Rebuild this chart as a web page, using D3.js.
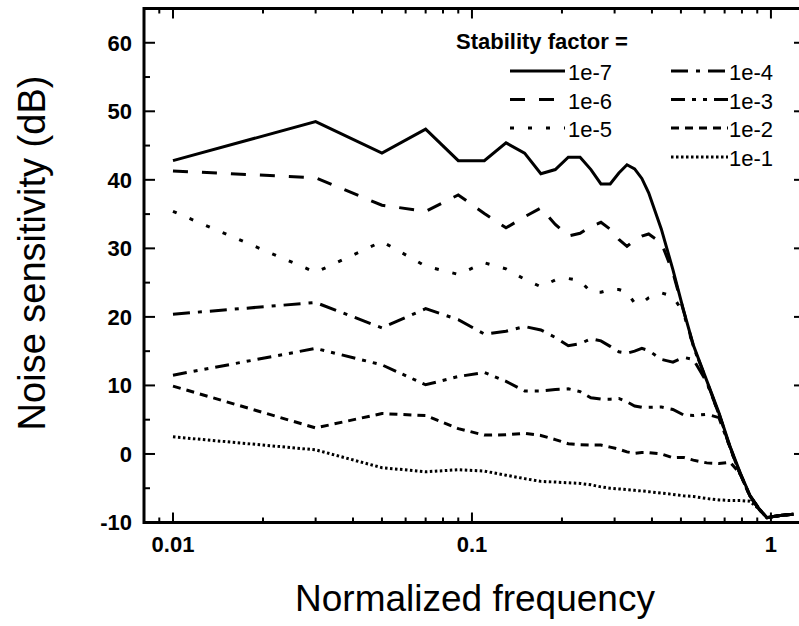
<!DOCTYPE html>
<meta charset="utf-8">
<head>
    <script type="text/javascript" src="https://cdn.jsdelivr.net/npm/d3@7"></script>
    <style>
        body {
            margin: 0;
            background: white;
            font-family: "Liberation Sans", Arial, sans-serif;
        }
        .curve {
            fill: none;
            stroke: black;
            stroke-width: 3;
        }
        .tick-label {
            font-size: 22px;
            font-weight: bold;
        }
        .axis-title {
            font-size: 37px;
        }
    </style>
    <title>Noise sensitivity</title>
</head>

<body>
    <div id="chart"></div>

    <script>
        var w = 799;
        var h = 626;

        // frequencies shared by every curve
        var freqs = [0.01, 0.03, 0.05, 0.07, 0.09, 0.11, 0.13, 0.15, 0.17, 0.19,
                     0.21, 0.23, 0.25, 0.27, 0.29, 0.31, 0.33, 0.35, 0.37, 0.39,
                     0.43, 0.47, 0.51, 0.55, 0.61, 0.67, 0.73, 0.79, 0.85, 0.91,
                     0.97, 1.03, 1.11, 1.19];

        // noise sensitivity (dB) per stability factor
        var sens1e7 = [42.8, 48.5, 43.9, 47.4, 42.8, 42.8, 45.4, 43.9, 40.9, 41.5,
                       43.3, 43.3, 41.5, 39.4, 39.4, 41.0, 42.2, 41.6, 40.2, 38.1,
                       32.8, 26.9, 21.0, 15.9, 10.7, 6.0, 1.1, -2.8, -6.0, -7.9,
                       -9.3, -9.1, -8.9, -8.8];
        var sens1e6 = [41.3, 40.3, 36.3, 35.4, 37.8, 35.1, 33.0, 34.6, 35.9, 33.5,
                       31.8, 32.2, 33.2, 33.8, 32.8, 31.3, 30.3, 31.2, 31.8, 32.1,
                       30.8, 26.5, 20.9, 15.8, 10.6, 5.9, 1.0, -2.9, -6.1, -7.9,
                       -9.3, -9.1, -8.9, -8.8];
        var sens1e5 = [35.4, 26.5, 31.0, 27.4, 26.2, 27.9, 27.0, 25.5, 24.4, 25.4,
                       25.6, 25.3, 23.6, 23.6, 24.0, 24.0, 23.6, 22.0, 22.0, 22.8,
                       23.5, 23.0, 20.6, 15.7, 10.5, 5.8, 0.9, -3.0, -6.1, -8.0,
                       -9.3, -9.1, -8.9, -8.8];
        var sens1e4 = [20.4, 22.1, 18.4, 21.2, 19.6, 17.5, 17.9, 18.6, 18.1, 17.0,
                       15.8, 16.1, 16.8, 16.5, 15.7, 14.9, 14.7, 15.0, 15.4, 15.1,
                       13.8, 13.4, 14.1, 13.8, 10.5, 5.8, 0.9, -3.0, -6.1, -8.0,
                       -9.3, -9.1, -8.9, -8.8];
        var sens1e3 = [11.5, 15.4, 13.0, 10.1, 11.3, 11.9, 10.6, 9.2, 9.2, 9.4,
                       9.5, 9.1, 8.2, 8.0, 8.0, 8.1, 7.6, 7.0, 6.8, 6.8,
                       6.85, 6.5, 5.7, 5.6, 5.8, 5.3, 0.9, -3.0, -6.1, -8.0,
                       -9.3, -9.1, -8.9, -8.8];
        var sens1e2 = [9.9, 3.8, 5.9, 5.6, 3.7, 2.75, 2.8, 3.0, 2.7, 2.1,
                       1.5, 1.35, 1.3, 1.3, 1.0, 0.7, 0.3, 0.1, 0.2, 0.2,
                       0.0, -0.55, -0.5, -0.9, -1.3, -1.4, -1.2, -2.9, -6.1, -8.0,
                       -9.3, -9.1, -8.9, -8.8];
        var sens1e1 = [2.5, 0.6, -2.0, -2.6, -2.3, -2.5, -3.1, -3.6, -4.0, -4.1,
                       -4.2, -4.3, -4.5, -4.8, -5.0, -5.1, -5.2, -5.3, -5.4, -5.5,
                       -5.7, -5.9, -6.1, -6.2, -6.5, -6.7, -6.8, -6.8, -6.9, -8.0,
                       -9.3, -9.1, -8.9, -8.8];

        var seriesNames = ["1e-7", "1e-6", "1e-5", "1e-4", "1e-3", "1e-2", "1e-1"];
        var seriesValues = [sens1e7, sens1e6, sens1e5, sens1e4, sens1e3, sens1e2, sens1e1];
        var dashes = ["none", "15,14", "4,14", "17,8,4,8", "14,7,4,7,4,7", "8,6", "2.5,2.5"];

        var yTicks = [-10, 0, 10, 20, 30, 40, 50, 60];
        var yMinorTicks = [-5, 5, 15, 25, 35, 45, 55];
        var xTicks = [0.01, 0.1, 1];
        var xTickLabels = ["0.01", "0.1", "1"];
        var xMinorTicks = [0.009, 0.02, 0.03, 0.04, 0.05, 0.06, 0.07, 0.08, 0.09,
                           0.2, 0.3, 0.4, 0.5, 0.6, 0.7, 0.8, 0.9];

        var svg = d3.select("#chart")
                    .append("svg")
                    .attr("width", w)
                    .attr("height", h);

        var x = d3.scaleLog().domain([0.008, 1.3]).range([144, 805]);
        var y = d3.scaleLinear().domain([-10, 65]).range([522.5, 8.5]);

        var plotLeft = x.range()[0], plotRight = x.range()[1];
        var plotTop = y.range()[1], plotBottom = y.range()[0];

        // curves
        var line = d3.line()
            .x(d => x(d[0]))
            .y(d => y(d[1]));

        svg.append("g")
            .selectAll("path")
            .data(seriesValues)
            .enter()
            .append("path")
            .attr("class", "curve")
            .attr("d", vals => line(freqs.map((f, i) => [f, vals[i]])))
            .style("stroke-dasharray", (d, i) => dashes[i]);

        // frame
        svg.append("rect")
            .attr("x", plotLeft)
            .attr("y", plotTop)
            .attr("width", plotRight - plotLeft)
            .attr("height", plotBottom - plotTop)
            .attr("fill", "none")
            .attr("stroke", "black")
            .attr("stroke-width", 3);

        // ticks, all pointing inward
        var ticks = svg.append("g").attr("stroke", "black").attr("stroke-width", 2);

        function xTickMarks(vals, len) {
            vals.forEach(v => {
                ticks.append("line").attr("x1", x(v)).attr("x2", x(v))
                    .attr("y1", plotBottom).attr("y2", plotBottom - len);
                ticks.append("line").attr("x1", x(v)).attr("x2", x(v))
                    .attr("y1", plotTop).attr("y2", plotTop + len);
            });
        }
        function yTickMarks(vals, len) {
            vals.forEach(v => {
                ticks.append("line").attr("y1", y(v)).attr("y2", y(v))
                    .attr("x1", plotLeft).attr("x2", plotLeft + len);
                ticks.append("line").attr("y1", y(v)).attr("y2", y(v))
                    .attr("x1", plotRight).attr("x2", plotRight - len);
            });
        }
        xTickMarks(xTicks, 10);
        xTickMarks(xMinorTicks, 5);
        yTickMarks(yTicks, 11);
        yTickMarks(yMinorTicks, 6);

        // tick labels
        svg.append("g")
            .selectAll("text")
            .data(yTicks)
            .enter()
            .append("text")
            .attr("class", "tick-label")
            .attr("x", 132)
            .attr("y", d => y(d))
            .attr("dy", "0.36em")
            .attr("text-anchor", "end")
            .text(d => d);

        svg.append("g")
            .selectAll("text")
            .data(xTicks)
            .enter()
            .append("text")
            .attr("class", "tick-label")
            .attr("x", d => x(d))
            .attr("y", 552)
            .attr("text-anchor", "middle")
            .text((d, i) => xTickLabels[i]);

        // axis titles
        svg.append("text")
            .attr("class", "axis-title")
            .attr("x", 475)
            .attr("y", 611)
            .attr("text-anchor", "middle")
            .text("Normalized frequency");

        svg.append("text")
            .attr("class", "axis-title")
            .attr("transform", "translate(45,253) rotate(-90)")
            .attr("text-anchor", "middle")
            .style("font-size", "38px")
            .text("Noise sensitivity (dB)");

        // legend
        var legend = svg.append("g").attr("id", "legend");

        legend.append("text")
            .attr("x", 456)
            .attr("y", 49)
            .style("font-size", "22px")
            .style("font-weight", "bold")
            .text("Stability factor =");

        var legendCols = [{x1: 510, x2: 565, tx: 568}, {x1: 671, x2: 728, tx: 729}];
        var legendRows = [80, 108.5, 137, 166];

        seriesNames.forEach((name, i) => {
            var col = i < 3 ? legendCols[0] : legendCols[1];
            var row = i < 3 ? i : i - 3;
            var by = legendRows[row];
            legend.append("line")
                .attr("class", "curve")
                .attr("x1", col.x1)
                .attr("x2", col.x2)
                .attr("y1", by - 9)
                .attr("y2", by - 9)
                .style("stroke-dasharray", dashes[i]);
            legend.append("text")
                .attr("x", col.tx)
                .attr("y", by)
                .style("font-size", "22px")
                .text(name);
        });
    </script>
</body>
